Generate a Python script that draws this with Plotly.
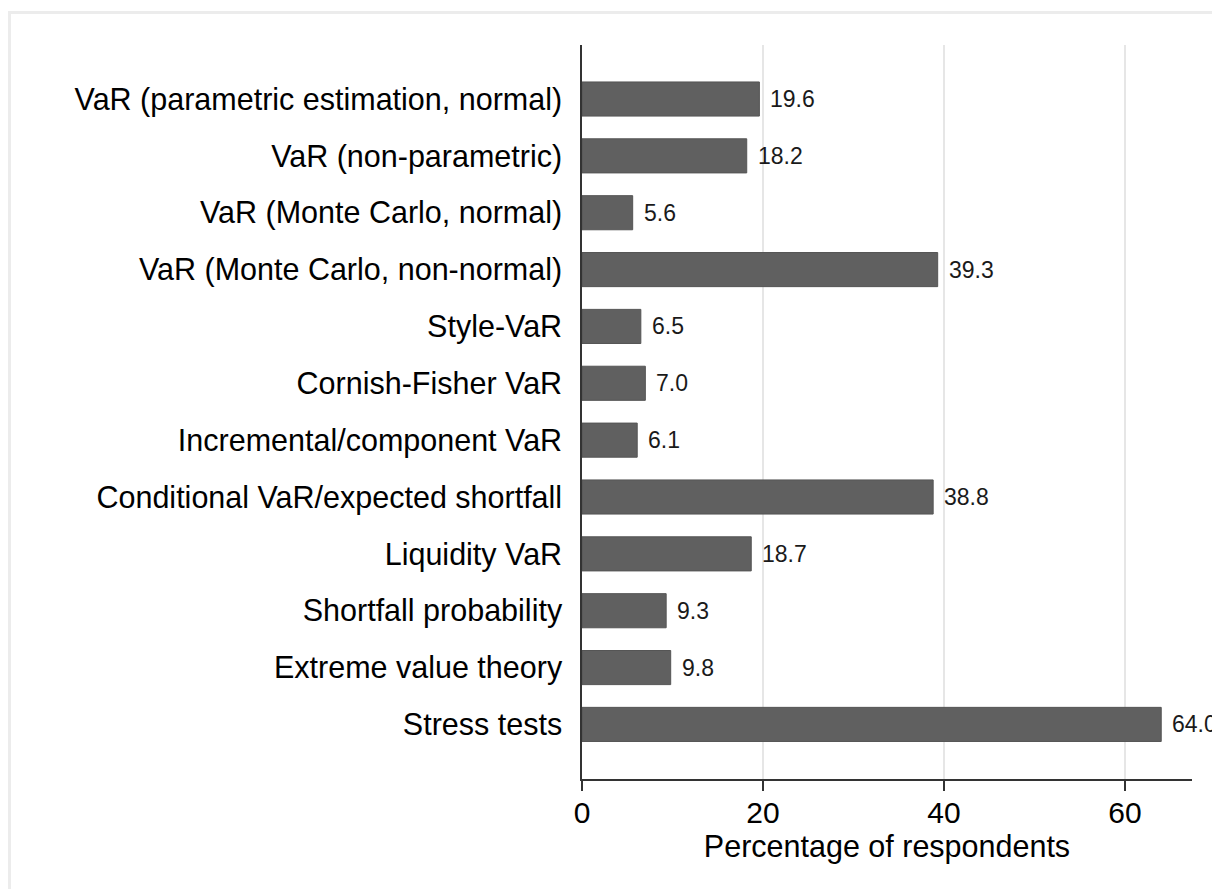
import plotly.graph_objects as go

categories = [
    "VaR (parametric estimation, normal)",
    "VaR (non-parametric)",
    "VaR (Monte Carlo, normal)",
    "VaR (Monte Carlo, non-normal)",
    "Style-VaR",
    "Cornish-Fisher VaR",
    "Incremental/component VaR",
    "Conditional VaR/expected shortfall",
    "Liquidity VaR",
    "Shortfall probability",
    "Extreme value theory",
    "Stress tests",
]
values = [19.6, 18.2, 5.6, 39.3, 6.5, 7.0, 6.1, 38.8, 18.7, 9.3, 9.8, 64.0]
x_ticks = [0, 20, 40, 60]
x_title = "Percentage of respondents"

FONT = "Arial, Liberation Sans, sans-serif"

fig = go.Figure()
fig.add_trace(go.Bar(
    x=values,
    y=categories,
    orientation="h",
    width=0.6,
    marker=dict(color="#606060", line=dict(color="#555555", width=1)),
    hoverinfo="x+y",
))

for v, c in zip(values, categories):
    fig.add_annotation(
        x=v, y=c, text=f"{v:.1f}", showarrow=False,
        xanchor="left", yanchor="middle", xshift=9,
        font=dict(family=FONT, size=23, color="#1a1a1a"),
    )

W, H = 1212, 889
L, R, T, B = 582, 20, 45, 110
pw, ph = W - L - R, H - T - B
def px_x(p):
    return (p - L) / pw
def px_y(p):
    return (H - B - p) / ph
# light frame around the figure
fig.add_shape(type="rect", xref="paper", yref="paper",
              x0=px_x(9.5), x1=px_x(1240), y0=px_y(905), y1=px_y(12.5),
              line=dict(color="#ececec", width=3), fillcolor="rgba(0,0,0,0)",
              layer="below")

fig.update_layout(
    width=W, height=H,
    margin=dict(l=L, r=R, t=T, b=B, autoexpand=False),
    plot_bgcolor="white", paper_bgcolor="white",
    showlegend=False,
    font=dict(family=FONT, size=31, color="black"),
    xaxis=dict(
        range=[0, 67.4], tickvals=x_ticks, ticktext=[str(t) for t in x_ticks],
        showgrid=True, gridcolor="#e6e6e6", gridwidth=2,
        showline=True, linecolor="#333333", linewidth=1.5,
        ticks="outside", ticklen=10, tickwidth=1.5, tickcolor="#333333",
        zeroline=False, automargin=False, ticklabelstandoff=-4,
        tickfont=dict(family=FONT, size=30, color="black"),
        title=dict(text=x_title, standoff=0, font=dict(family=FONT, size=30.5, color="black")),
    ),
    yaxis=dict(
        type="category", categoryorder="array", categoryarray=categories,
        range=[11.96, -0.95],
        showgrid=False, showline=True, linecolor="#333333", linewidth=1.5,
        ticks="", ticklabelstandoff=12, automargin=False, zeroline=False,
        tickfont=dict(family=FONT, size=30.5, color="black"),
    ),
)

fig.write_html(
    "out.html",
    config={"displayModeBar": False},
    post_script="document.body.style.margin='0';document.body.style.overflow='hidden';",
)
